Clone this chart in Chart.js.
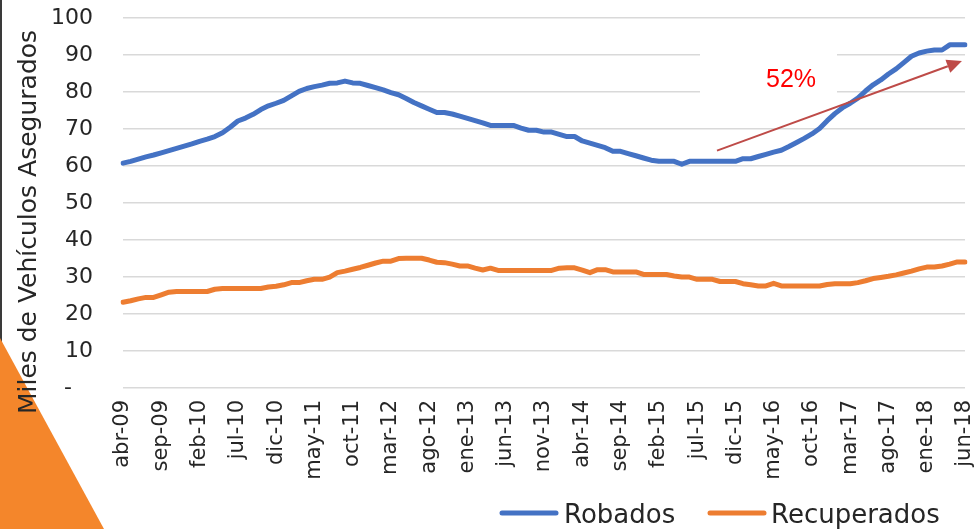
<!DOCTYPE html>
<html>
<head>
<meta charset="utf-8">
<script src="https://cdn.jsdelivr.net/npm/chart.js@4/dist/chart.umd.min.js"></script>
<style>
html,body{margin:0;padding:0;background:#fff;}
canvas{display:block;}
</style>
</head>
<body>
<canvas id="c" width="975" height="529"></canvas>
<script>
const monthNames = ['ene','feb','mar','abr','may','jun','jul','ago','sep','oct','nov','dic'];
const startMonth = 3;   // abr
const startYear = 9;    // 2009
const nMonths = 111;
const categories = [];
for (let k = 0; k < nMonths; k++) {
  const m = (startMonth + k) % 12;
  const y = startYear + Math.floor((startMonth + k) / 12);
  categories.push(monthNames[m] + '-' + String(y).padStart(2, '0'));
}

const robados = [
  60.8,61.3,61.9,62.5,63.0,63.6,64.2,64.8,65.4,66.0,
  66.7,67.3,68.0,69.0,70.5,72.2,73.0,74.0,75.3,76.3,
  77.0,77.8,79.0,80.2,81.0,81.5,81.9,82.4,82.5,83.0,
  82.5,82.4,81.8,81.2,80.6,79.9,79.3,78.3,77.2,76.3,
  75.4,74.5,74.5,74.1,73.5,72.9,72.3,71.7,71.0,71.0,
  71.0,71.0,70.3,69.7,69.7,69.2,69.2,68.6,68.0,68.0,
  66.8,66.2,65.6,65.0,64.0,64.0,63.4,62.8,62.2,61.6,
  61.3,61.3,61.3,60.5,61.3,61.3,61.3,61.3,61.3,61.3,
  61.3,62.0,62.0,62.6,63.2,63.8,64.3,65.3,66.4,67.5,
  68.7,70.2,72.3,74.2,75.8,77.0,78.4,80.3,82.0,83.3,
  84.9,86.3,88.0,89.7,90.6,91.1,91.4,91.4,92.8,92.8,
  92.8
];
const recuperados = [
  23.2,23.6,24.1,24.5,24.5,25.2,25.9,26.1,26.1,26.1,
  26.1,26.1,26.7,26.9,26.9,26.9,26.9,26.9,26.9,27.3,
  27.5,27.9,28.5,28.5,29.0,29.4,29.4,30.0,31.2,31.6,
  32.1,32.6,33.2,33.8,34.3,34.3,35.0,35.1,35.1,35.1,
  34.6,34.0,33.9,33.5,33.0,33.0,32.4,31.9,32.4,31.8,
  31.8,31.8,31.8,31.8,31.8,31.8,31.8,32.4,32.5,32.5,
  31.9,31.2,32.0,32.0,31.4,31.4,31.4,31.4,30.7,30.7,
  30.7,30.7,30.3,30.0,30.0,29.4,29.4,29.4,28.8,28.8,
  28.8,28.2,27.9,27.6,27.6,28.3,27.6,27.6,27.6,27.6,
  27.6,27.6,28.0,28.2,28.2,28.2,28.5,29.0,29.6,29.9,
  30.2,30.6,31.1,31.6,32.2,32.7,32.7,33.0,33.5,34.1,
  34.1
];
const seriesNames = ['Robados', 'Recuperados'];
const yTicks = [0,10,20,30,40,50,60,70,80,90,100];
const yTitle = 'Miles de Vehículos Asegurados';
const annotationText = '52%';
const arrowFrom = {i: 77.6, v: 64.2};
const arrowTo = {i: 109.6, v: 88.4};

const FONT = "'DejaVu Sans', sans-serif";
const TXT = '#262626';

const decor = {
  id: 'decor',
  beforeDraw(chart) {
    const ctx = chart.ctx;
    ctx.save();
    ctx.fillStyle = '#fff';
    ctx.fillRect(0, 0, chart.width, chart.height);
    ctx.fillStyle = '#3a3a3a';
    ctx.fillRect(0, 0, 2, chart.height);
    ctx.fillStyle = '#F4862B';
    ctx.beginPath();
    ctx.moveTo(0, 338);
    ctx.lineTo(104, 529);
    ctx.lineTo(0, 529);
    ctx.closePath();
    ctx.fill();
    ctx.restore();
  },
  beforeDatasetsDraw(chart) {
    const ctx = chart.ctx;
    ctx.save();
    ctx.fillStyle = '#fff';
    ctx.fillRect(700, 44, 137, 60);
    ctx.restore();
  },
  afterDatasetsDraw(chart) {
    const ctx = chart.ctx;
    const xs = chart.scales.x, ys = chart.scales.y;
    const x0 = xs.getPixelForValue(arrowFrom.i), y0 = ys.getPixelForValue(arrowFrom.v);
    const x1 = xs.getPixelForValue(arrowTo.i), y1 = ys.getPixelForValue(arrowTo.v);
    const ang = Math.atan2(y1 - y0, x1 - x0);
    const hl = 15, hw = 7;
    ctx.save();
    ctx.strokeStyle = '#BE4B48';
    ctx.fillStyle = '#BE4B48';
    ctx.lineWidth = 2;
    ctx.beginPath();
    ctx.moveTo(x0, y0);
    ctx.lineTo(x1 - hl * Math.cos(ang), y1 - hl * Math.sin(ang));
    ctx.stroke();
    ctx.beginPath();
    ctx.moveTo(x1, y1);
    ctx.lineTo(x1 - hl * Math.cos(ang) + hw * Math.sin(ang), y1 - hl * Math.sin(ang) - hw * Math.cos(ang));
    ctx.lineTo(x1 - hl * Math.cos(ang) - hw * Math.sin(ang), y1 - hl * Math.sin(ang) + hw * Math.cos(ang));
    ctx.closePath();
    ctx.fill();
    ctx.fillStyle = '#FF0000';
    ctx.font = "25px 'Liberation Sans', Arial, sans-serif";
    ctx.textAlign = 'center';
    ctx.textBaseline = 'middle';
    ctx.fillText(annotationText, 791, 80);
    ctx.restore();
  },
  afterDraw(chart) {
    const ctx = chart.ctx;
    ctx.save();
    // y axis title
    ctx.fillStyle = TXT;
    ctx.font = '25px ' + FONT;
    ctx.textAlign = 'center';
    ctx.textBaseline = 'middle';
    ctx.translate(29, 222);
    ctx.rotate(-Math.PI / 2);
    ctx.fillText(yTitle, 0, 0);
    ctx.restore();
    // legend
    ctx.save();
    ctx.font = '26px ' + FONT;
    ctx.textBaseline = 'middle';
    ctx.textAlign = 'left';
    const items = [{x: 502, tx: 564}, {x: 710, tx: 771}];
    chart.data.datasets.forEach((ds, k) => {
      const it = items[k];
      ctx.strokeStyle = ds.borderColor;
      ctx.lineWidth = 5;
      ctx.lineCap = 'round';
      ctx.beginPath();
      ctx.moveTo(it.x, 513);
      ctx.lineTo(it.x + 54, 513);
      ctx.stroke();
      ctx.fillStyle = TXT;
      ctx.fillText(ds.label, it.tx, 516);
    });
    ctx.restore();
  }
};

new Chart(document.getElementById('c'), {
  type: 'line',
  data: {
    labels: categories,
    datasets: [
      {label: seriesNames[0], data: robados, borderColor: '#4472C4', backgroundColor: '#4472C4'},
      {label: seriesNames[1], data: recuperados, borderColor: '#ED7D31', backgroundColor: '#ED7D31'}
    ]
  },
  options: {
    responsive: false,
    devicePixelRatio: 1,
    animation: false,
    layout: {padding: {top: 17, right: 10, left: 0, bottom: 0}},
    elements: {
      line: {borderWidth: 5, tension: 0, borderCapStyle: 'round', borderJoinStyle: 'round'},
      point: {radius: 0, hoverRadius: 0}
    },
    plugins: {legend: {display: false}, tooltip: {enabled: false}},
    scales: {
      x: {
        type: 'category',
        offset: false,
        grid: {display: true, drawOnChartArea: false, drawTicks: true, tickLength: 12, tickColor: 'rgba(0,0,0,0)'},
        border: {display: false},
        ticks: {
          autoSkip: false,
          maxRotation: 90,
          minRotation: 90,
          padding: 0,
          color: TXT,
          font: {family: FONT, size: 21, lineHeight: 0.4},
          callback: function(v, i) { return i % 5 === 0 ? categories[i] : ''; }
        },
        afterFit(s) { s.height = 529 - 388; }
      },
      y: {
        min: 0, max: 100,
        afterBuildTicks(s) { s.ticks = yTicks.map(v => ({value: v})); },
        grid: {color: '#D9D9D9', lineWidth: 1.5, drawTicks: true, tickLength: 25, tickColor: 'rgba(0,0,0,0)'},
        border: {display: false},
        ticks: {
          padding: 5,
          color: TXT,
          font: {family: FONT, size: 22},
          callback: v => v === 0 ? '-   ' : String(v)
        },
        title: {display: false},
        afterFit(s) { s.width = 123; }
      }
    }
  },
  plugins: [decor]
});
</script>
</body>
</html>
